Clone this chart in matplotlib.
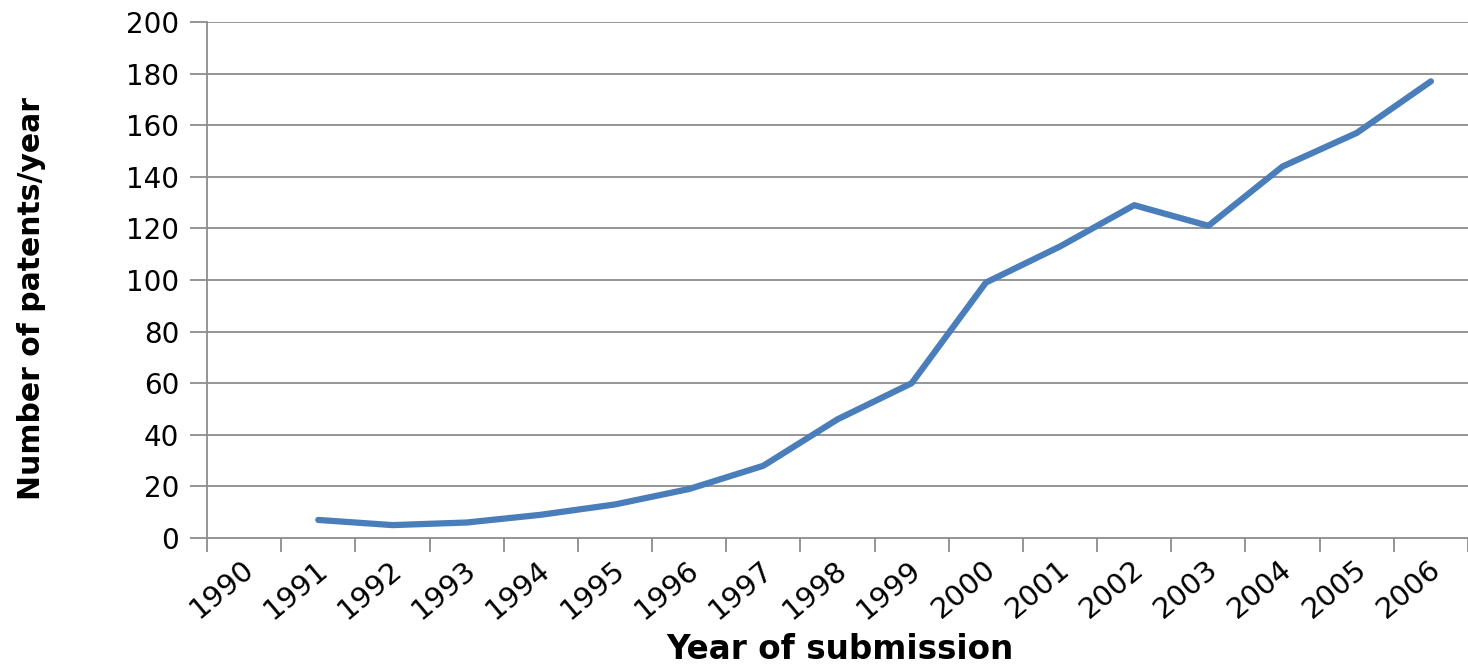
import matplotlib
matplotlib.use("Agg")
import matplotlib.pyplot as plt
import matplotlib.transforms as mtransforms
import numpy as np

plt.rcParams['font.family'] = ['DejaVu Sans']

categories = ['1990', '1991', '1992', '1993', '1994', '1995', '1996', '1997', '1998',
              '1999', '2000', '2001', '2002', '2003', '2004', '2005', '2006']
years_with_data = ['1991', '1992', '1993', '1994', '1995', '1996', '1997', '1998',
                   '1999', '2000', '2001', '2002', '2003', '2004', '2005', '2006']
patents = [7, 5, 6, 9, 13, 19, 28, 46, 60, 99, 113, 129, 121, 144, 157, 177]
y_ticks = [0, 20, 40, 60, 80, 100, 120, 140, 160, 180, 200]

W, H = 1468, 668
fig = plt.figure(figsize=(W / 100, H / 100), dpi=100)
ax = fig.add_axes([207 / W, (H - 538) / H, 1 - 207 / W, (538 - 22) / H])

xpos = [categories.index(y) for y in years_with_data]
ax.plot(xpos, patents, color='#4A7EBB', linewidth=4.5, solid_capstyle='round',
        solid_joinstyle='round', zorder=3)

grid_c = '#8C8C8C'
ax.set_ylim(0, 200)
ax.set_yticks(y_ticks)
ax.set_yticklabels([str(v) for v in y_ticks], fontsize=20)
for v in y_ticks[1:]:
    ax.axhline(v, color=grid_c, linewidth=1.3, zorder=1)

n = len(categories)
px_per_cat = 75
ax.set_xlim(-0.5, -0.5 + (W - 207) / px_per_cat)
ax.set_xticks(np.arange(n + 1) - 0.5, minor=False)
ax.set_xticklabels([])
ax.tick_params(axis='x', which='major', length=10, width=1.3, color=grid_c)
ax.set_xticks(np.arange(n), minor=True)
ax.set_xticklabels(categories, minor=True, rotation=40, ha='right', va='center',
                   rotation_mode='anchor', fontsize=21)
ax.tick_params(axis='x', which='minor', length=0, pad=20)
offset = mtransforms.ScaledTranslation(6 / 100, 0, fig.dpi_scale_trans)
for lbl in ax.xaxis.get_minorticklabels():
    lbl.set_transform(lbl.get_transform() + offset)
ax.tick_params(axis='y', length=12, width=1.3, color=grid_c, pad=8)

for s in ['top', 'right']:
    ax.spines[s].set_visible(False)
for s in ['left', 'bottom']:
    ax.spines[s].set_color(grid_c)
    ax.spines[s].set_linewidth(1.3)

ax.set_ylabel('Number of patents/year', fontsize=21.5, fontweight='bold')
ax.yaxis.set_label_coords(-(207 - 46) / (W - 207), (538 - 299) / (538 - 22))

ax.set_xlabel('Year of submission', fontsize=23.5, fontweight='bold')
ax.xaxis.label.set_va('baseline')
ax.xaxis.set_label_coords((840 - 207) / (W - 207), -(659 - 538) / (538 - 22))

fig.savefig('out.png', dpi=100)
